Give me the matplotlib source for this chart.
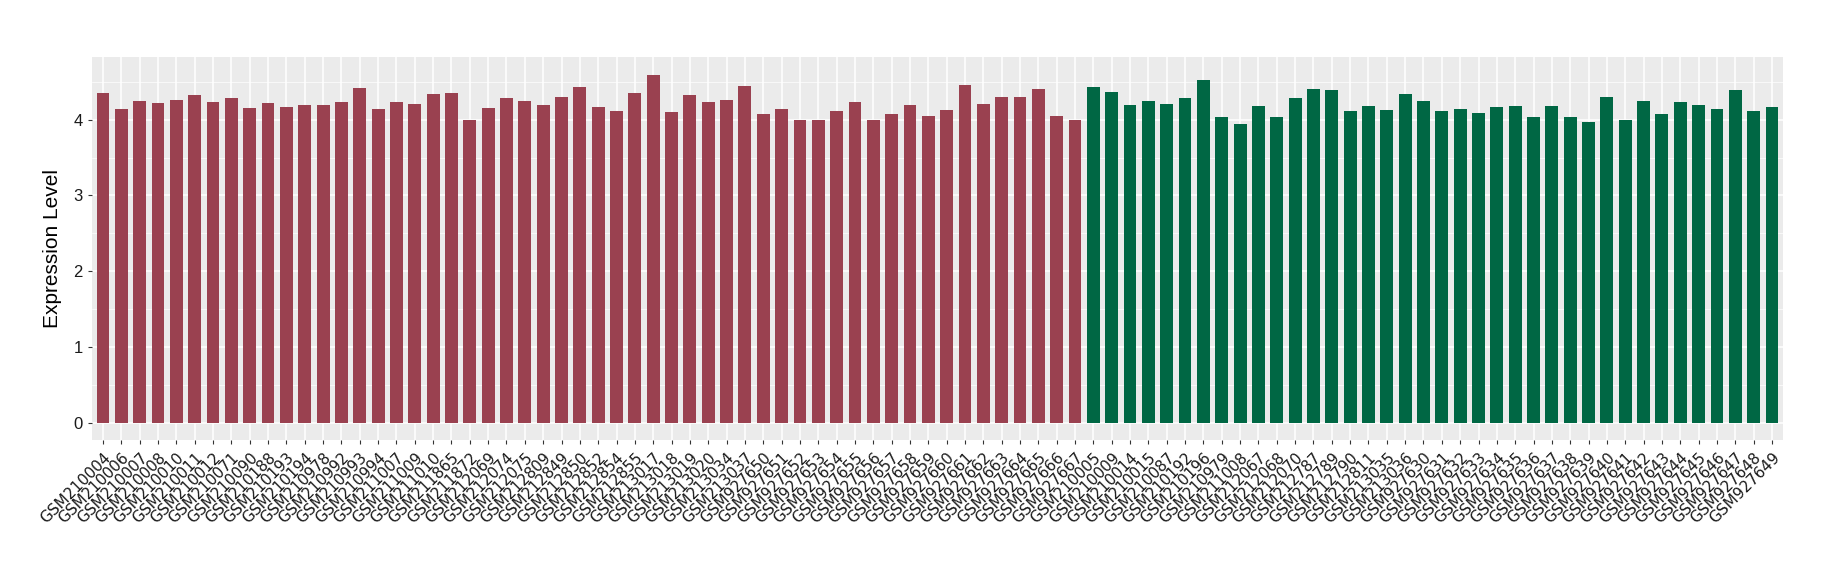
import numpy as np
import matplotlib
matplotlib.use("Agg")
import matplotlib.pyplot as plt

plt.rcParams['font.family'] = ['Liberation Sans', 'DejaVu Sans']

# group 1 (red)
red_samples = ['GSM210004', 'GSM210006', 'GSM210007', 'GSM210008', 'GSM210010', 'GSM210011',
               'GSM210012', 'GSM210071', 'GSM210090', 'GSM210188', 'GSM210193', 'GSM210194',
               'GSM210978', 'GSM210992', 'GSM210993', 'GSM210994', 'GSM211007', 'GSM211009',
               'GSM211010', 'GSM211865', 'GSM211872', 'GSM212069', 'GSM212074', 'GSM212075',
               'GSM212809', 'GSM212849', 'GSM212850', 'GSM212852', 'GSM212854', 'GSM212855',
               'GSM213017', 'GSM213018', 'GSM213019', 'GSM213020', 'GSM213034', 'GSM213037',
               'GSM927650', 'GSM927651', 'GSM927652', 'GSM927653', 'GSM927654', 'GSM927655',
               'GSM927656', 'GSM927657', 'GSM927658', 'GSM927659', 'GSM927660', 'GSM927661',
               'GSM927662', 'GSM927663', 'GSM927664', 'GSM927665', 'GSM927666', 'GSM927667']
red_values = [4.355, 4.145, 4.25, 4.22, 4.26, 4.33, 4.24, 4.29, 4.16, 4.22, 4.17, 4.20,
              4.20, 4.24, 4.42, 4.145, 4.24, 4.21, 4.34, 4.355, 3.99, 4.16, 4.29, 4.25,
              4.20, 4.30, 4.43, 4.17, 4.12, 4.355, 4.59, 4.105, 4.33, 4.24, 4.26, 4.45,
              4.07, 4.145, 3.99, 4.00, 4.12, 4.24, 3.99, 4.07, 4.20, 4.05, 4.13, 4.46,
              4.21, 4.30, 4.30, 4.41, 4.05, 3.99]

# group 2 (green)
green_samples = ['GSM210005', 'GSM210009', 'GSM210014', 'GSM210015', 'GSM210087', 'GSM210192',
                 'GSM210196', 'GSM210979', 'GSM211008', 'GSM212067', 'GSM212068', 'GSM212070',
                 'GSM212787', 'GSM212789', 'GSM212790', 'GSM212811', 'GSM213035', 'GSM213036',
                 'GSM927630', 'GSM927631', 'GSM927632', 'GSM927633', 'GSM927634', 'GSM927635',
                 'GSM927636', 'GSM927637', 'GSM927638', 'GSM927639', 'GSM927640', 'GSM927641',
                 'GSM927642', 'GSM927643', 'GSM927644', 'GSM927645', 'GSM927646', 'GSM927647',
                 'GSM927648', 'GSM927649']
green_values = [4.43, 4.37, 4.20, 4.25, 4.21, 4.29, 4.53, 4.03, 3.95, 4.18, 4.03, 4.29,
                4.41, 4.39, 4.12, 4.18, 4.13, 4.34, 4.25, 4.12, 4.145, 4.09, 4.17, 4.18,
                4.03, 4.18, 4.04, 3.97, 4.30, 3.99, 4.25, 4.08, 4.24, 4.20, 4.145, 4.39,
                4.12, 4.17]

samples = red_samples + green_samples
values = red_values + green_values
colors = ['#9A4150'] * len(red_samples) + ['#006744'] * len(green_samples)
x = np.arange(len(samples))

fig = plt.figure(figsize=(18.4, 5.8), dpi=100)
ax = fig.add_axes([0.05, 0.241, 0.919, 0.661])
ax.set_facecolor('#EBEBEB')

ax.set_xticks(x)
ax.set_yticks([0, 1, 2, 3, 4])
ax.set_yticks(np.arange(0.5, 4.6, 1.0), minor=True)
ax.grid(True, which='major', color='white', linewidth=1.1)
ax.grid(True, which='minor', axis='y', color='white', linewidth=0.5)
ax.set_axisbelow(True)

ax.bar(x, values, width=0.7, color=colors, zorder=2)

ax.set_xlim(-0.6, len(samples) - 0.4)
ax.set_ylim(-0.23, 4.83)

ax.set_xticklabels(samples, rotation=45, ha='right', rotation_mode='anchor',
                   fontsize=11, family='DejaVu Sans')
ax.tick_params(axis='both', which='major', length=3, color='#333333', labelcolor='#1A1A1A')
ax.tick_params(axis='x', pad=4)
ax.tick_params(axis='y', labelsize=12)
ax.tick_params(axis='y', which='minor', length=0)
for s in ax.spines.values():
    s.set_visible(False)

ax.set_ylabel('Expression Level', fontsize=15, labelpad=8)

plt.savefig('out.png', dpi=100)
